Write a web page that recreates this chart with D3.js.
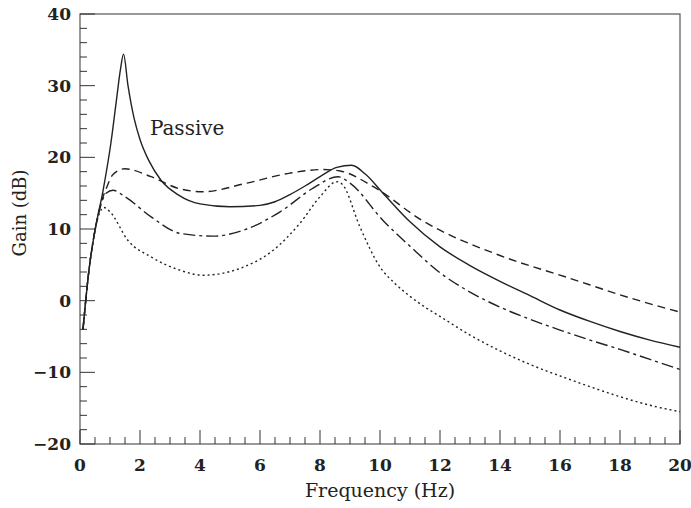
<!DOCTYPE html>
<html>
<head>
<meta charset="utf-8">
<script src="https://cdn.jsdelivr.net/npm/d3@7"></script>
<style>
  body { margin: 0; background: #fff; }
  text { font-family: "DejaVu Serif", "Liberation Serif", serif; fill: #222; }
  .tick-label { font-size: 17px; font-weight: bold; }
</style>
</head>
<body>
<div id="chart"></div>
<script>
// gain curves, [frequency Hz, gain dB]
var passive = [[0.1,-4],[0.3,4.3],[0.5,9.8],[0.77,15.4],[1.03,22],[1.2,27.5],[1.35,32.3],[1.45,34.4],
  [1.6,30],[1.8,25.5],[2.0,22.5],[2.3,19.5],[2.7,16.8],[3.3,14.7],[4.0,13.5],[5.0,13.1],[6.0,13.3],
  [6.5,13.8],[7.0,14.8],[7.5,16.0],[8.0,17.3],[8.56,18.6],[9.06,18.9],[9.5,17.7],[10.1,15],[11,11],
  [12,7.5],[13,4.9],[14,2.7],[15,0.7],[16,-1.3],[17,-2.9],[18,-4.3],[19,-5.5],[20,-6.5]];

var dashed = [[0.1,-4],[0.3,4.3],[0.5,9.8],[0.7,13.6],[0.87,15.6],[1.1,17.6],[1.49,18.4],[2.37,17.3],
  [3.33,15.6],[4.1,15.2],[5.56,16.4],[7.0,17.8],[8.1,18.3],[8.67,18.1],[9.78,15.9],[11.4,11.2],
  [14,6.3],[16.2,3.3],[18.4,0.3],[20,-1.6]];

var dashdot = [[0.1,-4],[0.3,4.3],[0.5,9.8],[0.7,13.4],[0.87,15.0],[1.1,15.4],[1.5,14.5],[2.37,11.7],
  [3.33,9.4],[4.43,9.0],[5.56,10.0],[6.67,12.4],[7.77,15.7],[8.6,17.3],[9.0,16.4],[10.1,11.2],
  [11,7.6],[12,3.9],[13,1.2],[14,-0.9],[15,-2.6],[16,-4.1],[17,-5.5],[18,-6.8],[19,-8.2],[20,-9.6]];

var dotted = [[0.1,-4],[0.3,4.3],[0.5,9.8],[0.65,12.2],[0.8,13.0],[1.0,12.4],[1.6,8.4],[2.37,6.1],
  [3.33,4.25],[4.1,3.55],[5.33,4.5],[6.43,7.0],[7.33,10.8],[8.0,14.5],[8.56,16.6],[8.75,16.2],
  [9.33,10.3],[10,4.7],[10.5,2.4],[11,0.6],[11.5,-0.9],[12,-2.2],[13,-4.8],[14,-7.0],[15,-8.9],
  [16,-10.5],[17,-12.0],[18,-13.4],[19,-14.6],[20,-15.5]];

var xTicks = [0, 2, 4, 6, 8, 10, 12, 14, 16, 18, 20];
var yTicks = [-20, -10, 0, 10, 20, 30, 40];

var margin = {left: 80, right: 11, top: 14, bottom: 64};
var totalW = 691, totalH = 508;
var width = totalW - margin.left - margin.right;
var height = totalH - margin.top - margin.bottom;

var svg = d3.select("#chart").append("svg")
  .attr("width", totalW)
  .attr("height", totalH);

var g = svg.append("g")
  .attr("transform", "translate(" + margin.left + "," + margin.top + ")");

var x = d3.scaleLinear().domain([0, 20]).range([0, width]);
var y = d3.scaleLinear().domain([-20, 40]).range([height, 0]);

// frame
g.append("rect")
  .attr("x", 0).attr("y", 0)
  .attr("width", width).attr("height", height)
  .attr("fill", "none")
  .attr("stroke", "#555")
  .attr("stroke-width", 1.2);

// minor + major ticks, drawn inside the plot
var xMinor = d3.range(0, 20.01, 0.5);
g.selectAll(".xtick")
  .data(xMinor)
  .enter().append("line")
  .attr("x1", d => x(d)).attr("x2", d => x(d))
  .attr("y1", height)
  .attr("y2", d => height - (d % 2 == 0 ? 14 : 7))
  .attr("stroke", "#333")
  .attr("stroke-width", 1);

var yMinor = d3.range(-20, 40.01, 2);
g.selectAll(".ytick")
  .data(yMinor)
  .enter().append("line")
  .attr("y1", d => y(d)).attr("y2", d => y(d))
  .attr("x1", 0)
  .attr("x2", d => (d % 10 == 0 ? 15 : 7))
  .attr("stroke", "#333")
  .attr("stroke-width", 1);

// tick labels
g.selectAll(".xlab")
  .data(xTicks)
  .enter().append("text")
  .attr("class", "tick-label")
  .attr("x", d => x(d))
  .attr("y", height + 27)
  .attr("text-anchor", "middle")
  .text(d => d);

g.selectAll(".ylab")
  .data(yTicks)
  .enter().append("text")
  .attr("class", "tick-label")
  .attr("x", -9)
  .attr("y", d => y(d) + 6)
  .attr("text-anchor", "end")
  .text(d => d < 0 ? "\u2212" + Math.abs(d) : d);

// axis titles
svg.append("text")
  .attr("x", 380)
  .attr("y", 497)
  .attr("text-anchor", "middle")
  .style("font-size", "19px")
  .text("Frequency (Hz)");

svg.append("text")
  .attr("transform", "translate(26," + 213 + ") rotate(-90)")
  .attr("text-anchor", "middle")
  .style("font-size", "18px")
  .text("Gain (dB)");

// curves
var line = d3.line()
  .x(d => x(d[0]))
  .y(d => y(d[1]))
  .curve(d3.curveMonotoneX);

var series = [
  {data: dotted, dash: "2,3"},
  {data: dashdot, dash: "12,4,3,4"},
  {data: dashed, dash: "8,5"},
  {data: passive, dash: null}
];

g.selectAll(".curve")
  .data(series)
  .enter().append("path")
  .attr("class", "curve")
  .attr("d", d => line(d.data))
  .attr("fill", "none")
  .attr("stroke", "#222")
  .attr("stroke-width", 1.4)
  .attr("stroke-dasharray", d => d.dash);

// label
g.append("text")
  .attr("x", x(2.33))
  .attr("y", y(23.1))
  .style("font-size", "20px")
  .text("Passive");
</script>
</body>
</html>
